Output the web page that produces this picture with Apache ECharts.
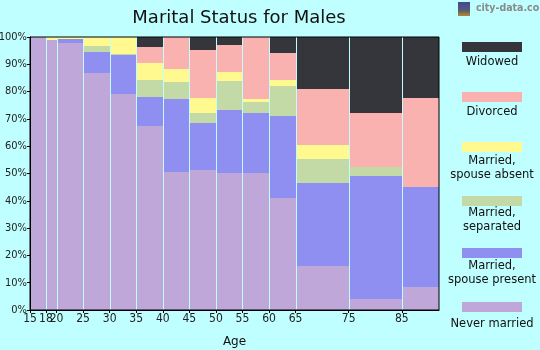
<!DOCTYPE html>
<html>
<head>
<meta charset="utf-8">
<script src="https://cdn.jsdelivr.net/npm/echarts@6/dist/echarts.min.js"></script>
<style>
html,body{margin:0;padding:0;background:#BFFFFF;}
#chart{width:540px;height:350px;}
</style>
</head>
<body>
<div id="chart"></div>
<script>
// Age bin edges (years)
var binEdges = [15, 18, 20, 25, 30, 35, 40, 45, 50, 55, 60, 65, 75, 85, 92];
var tickLabels = [15, 18, 20, 25, 30, 35, 40, 45, 50, 55, 60, 65, 75, 85];

// Percent of males in each bin (bottom to top)
var neverMarried   = [100, 99.0, 97.8, 86.9, 79.2, 67.5, 50.7, 51.1, 50.3, 50.3, 41.1, 16.1, 4.0, 8.4];
var spousePresent  = [0, 0, 1.4, 7.7, 14.3, 10.6, 26.7, 17.5, 23.1, 22.0, 30.1, 30.5, 45.2, 36.7];
var separated      = [0, 0, 0.2, 2.2, 0.3, 6.2, 6.2, 3.6, 10.6, 4.0, 11.0, 8.8, 3.3, 0];
var spouseAbsent   = [0, 1.0, 0.6, 3.2, 6.2, 6.3, 4.8, 5.5, 3.0, 1.1, 2.2, 5.2, 0, 0];
var divorced       = [0, 0, 0, 0, 0, 5.9, 11.6, 17.7, 9.9, 22.6, 9.9, 20.5, 19.8, 32.7];
var widowed        = [0, 0, 0, 0, 0, 3.5, 0, 4.6, 3.1, 0, 5.7, 18.9, 27.7, 22.2];

var seriesNames = ['Never married', 'Married, spouse present', 'Married, separated', 'Married, spouse absent', 'Divorced', 'Widowed'];
var legendLabels = ['Widowed', 'Divorced', 'Married,\nspouse absent', 'Married,\nseparated', 'Married,\nspouse present', 'Never married'];
var seriesValues = [neverMarried, spousePresent, separated, spouseAbsent, divorced, widowed];
var colors = ['#BFA8D9', '#8F8FF2', '#C3D9A6', '#FFF98F', '#F9B2B0', '#35363B'];

var chart = echarts.init(document.getElementById('chart'));

var cum = binEdges.slice(0, -1).map(function(){ return 0; });
var series = seriesValues.map(function(vals, si){
  var data = [];
  vals.forEach(function(v, i){
    var base = cum[i];
    cum[i] += v;
    if (v > 0) data.push([binEdges[i], binEdges[i+1], base, base + v]);
  });
  return {
    type: 'custom',
    name: seriesNames[si],
    z: 1,
    encode: {x: [0, 1], y: [2, 3]},
    data: data,
    renderItem: function(params, api){
      var p0 = api.coord([api.value(0), api.value(3)]);
      var p1 = api.coord([api.value(1), api.value(2)]);
      var x = Math.round(p0[0]) + 1;
      var w = Math.round(p1[0]) - x;
      var y = Math.round(p0[1]);
      var h = Math.round(p1[1]) - y;
      return {type: 'rect', shape: {x: x, y: y, width: w, height: h},
              style: {fill: colors[si]}};
    }
  };
});

// Legend drawn as graphics (swatch above label)
var legendSwatchY = [42, 92, 142, 196, 248, 302];
var legendTextY = [62, 112, 168, 220, 273, 324];
var legendColorIdx = [5, 4, 3, 2, 1, 0];
var graphics = [];
legendLabels.forEach(function(lbl, i){
  graphics.push({type: 'rect', left: 462, top: legendSwatchY[i],
    shape: {width: 60, height: 10}, style: {fill: colors[legendColorIdx[i]]}});
  graphics.push({type: 'text', x: 492, y: legendTextY[i],
    style: {text: lbl, fill: '#111', font: '11.5px "DejaVu Sans"', align: 'center',
            verticalAlign: 'middle', lineHeight: 13.5}});
});
// city-data.com mark
graphics.push({type: 'rect', left: 458, top: 2, shape: {width: 12, height: 14},
  style: {fill: new echarts.graphic.LinearGradient(0,0,0,1,[{offset:0,color:'#3A4C9A'},{offset:0.6,color:'#5A5A70'},{offset:1,color:'#B08A30'}])}});
graphics.push({type: 'text', x: 476, y: 8, style: {text: 'city-data.com', fill: '#8A8A8A',
  font: 'bold 10.5px "DejaVu Sans Condensed", "DejaVu Sans"', verticalAlign: 'middle'}});

chart.setOption({
  backgroundColor: '#BFFFFF',
  animation: false,
  title: {text: 'Marital Status for Males', left: 234, top: 4, textAlign: 'center',
    textStyle: {fontFamily: 'DejaVu Sans', fontSize: 18, fontWeight: 'normal', color: '#111'}},
  grid: {left: 30, top: 37, right: 101, bottom: 40, show: true, z: 5,
    containLabel: false, outerBoundsMode: 'none',
    borderColor: '#000', borderWidth: 1, backgroundColor: 'transparent'},
  xAxis: {type: 'value', min: 15, max: 92, z: 5,
    name: 'Age', nameLocation: 'middle', nameGap: 26,
    nameTextStyle: {fontFamily: 'DejaVu Sans', fontSize: 12, color: '#111'},
    axisLine: {lineStyle: {color: '#000'}},
    axisTick: {customValues: tickLabels, length: 3, lineStyle: {color: '#000'}},
    axisLabel: {customValues: tickLabels, margin: 3, color: '#222', hideOverlap: false,
      fontFamily: '"Liberation Sans Narrow", "DejaVu Sans Condensed", sans-serif', fontSize: 12},
    splitLine: {show: false}},
  yAxis: {type: 'value', min: 0, max: 100, interval: 10, z: 5,
    axisLine: {show: true, lineStyle: {color: '#000'}},
    axisTick: {show: true, length: 3, lineStyle: {color: '#000'}},
    axisLabel: {formatter: '{value}%', margin: 3, color: '#222',
      fontFamily: '"Liberation Sans Narrow", "DejaVu Sans Condensed", sans-serif', fontSize: 11},
    splitLine: {show: false}},
  graphic: graphics,
  series: series
});
</script>
</body>
</html>
